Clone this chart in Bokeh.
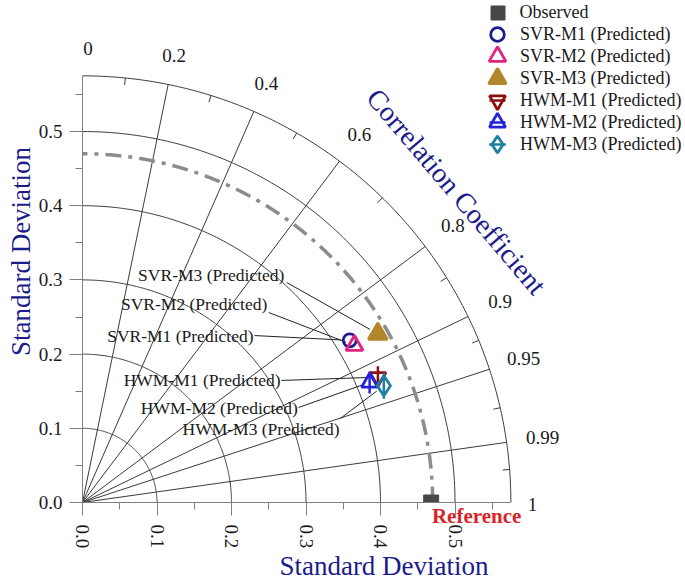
import numpy as np
from bokeh.plotting import figure
from bokeh.models import (ColumnDataSource, FixedTicker, Range1d, Legend,
                          LegendItem, LabelSet, Label, LinearAxis)
from bokeh.embed import file_html
from bokeh.resources import INLINE
from bokeh.core.properties import value

FONT = "Liberation Serif"

# ---------------- data ----------------
obs_name = "Observed"
obs_std = 0.468
model_names = ["SVR-M1 (Predicted)", "SVR-M2 (Predicted)", "SVR-M3 (Predicted)",
               "HWM-M1 (Predicted)", "HWM-M2 (Predicted)", "HWM-M3 (Predicted)"]
model_std = [0.420, 0.422, 0.457, 0.431, 0.418, 0.434]
model_corr = [0.854, 0.865, 0.8675, 0.920, 0.922, 0.932]

std_ticks = [0.0, 0.1, 0.2, 0.3, 0.4, 0.5]
std_tick_labels = ["0.0", "0.1", "0.2", "0.3", "0.4", "0.5"]
std_minor_ticks = [0.05, 0.15, 0.25, 0.35, 0.45, 0.55]
std_grid = [0.1, 0.2, 0.3, 0.4, 0.5]
std_max = 0.575
ref_arc_std = 0.47
corr_grid = [0.2, 0.4, 0.6, 0.8, 0.9, 0.95, 0.99]
corr_minor = [0.1, 0.3, 0.5, 0.7, 0.85, 0.925, 0.975, 0.997]
corr_ticks = [0.0, 0.2, 0.4, 0.6, 0.8, 0.9, 0.95, 0.99]
corr_tick_labels = ["0", "0.2", "0.4", "0.6", "0.8", "0.9", "0.95", "0.99"]
corr_end_label = "1"
ref_label = "Reference"

# ---------------- styles / layout ----------------
styles = [
    dict(marker="circle", color="#1c1c8e", size=13, fill=None, stem=False, lg=34),
    dict(marker="triangle", color="#e2237f", size=17, fill=None, stem=False, lg=42),
    dict(marker="triangle", color="#b3862c", size=19, fill="#b3862c", stem=False, lg=44),
    dict(marker="inverted_triangle", color="#8e0f12", size=16, fill=None, stem=True, lg=40),
    dict(marker="triangle", color="#2323dc", size=16, fill=None, stem=True, lg=40),
    dict(marker="diamond", color="#1e7fa6", size=20, fill=None, stem=True, lg=42),
]
# annotation text anchors (right-middle) and leader-line starts, data coords
label_anchor_x = [0.2295, 0.248, 0.271, 0.266, 0.289, 0.345]
label_anchor_y = [0.225, 0.268, 0.306, 0.1645, 0.128, 0.0997]
leader_x0 = [0.231, 0.250, 0.274, 0.267, 0.290, 0.346]
leader_y0 = [0.225, 0.256, 0.2965, 0.1645, 0.128, 0.1132]
leader_gap = 0.012

W, H = 685, 585
FRAME_LEFT, FRAME_BOTTOM = 82, 502
PXU_X, PXU_Y = 745.0, 742.0
NAVY = "#1b1b8a"
GRID = "#3a3a3a"
LEG_CX = 497            # legend glyph centre (canvas px)
LEG_TEXT_X = 520        # legend text start (canvas px)
LEG_ROW0, LEG_PITCH = 12, 22.0
# texts just under the axis line: label-only axes stacked after the main x axis,
# pulled back up with a negative standoff (their panel starts at the canvas bottom)
MAIN_AXIS_PANEL = H - FRAME_BOTTOM
REF_LABEL_X, REF_LABEL_TOP = 0.529, 504    # canvas px of the text top
END_LABEL_X, END_LABEL_TOP = 0.604, 498


def polar(s, c):
    s = np.asarray(s, dtype=float)
    c = np.asarray(c, dtype=float)
    return s * c, s * np.sqrt(1.0 - c ** 2)


p = figure(width=W, height=H, output_backend="svg", toolbar_location=None,
           x_range=Range1d(0, (W - FRAME_LEFT) / PXU_X),
           y_range=Range1d(0, FRAME_BOTTOM / PXU_Y),
           min_border_left=FRAME_LEFT, min_border_bottom=H - FRAME_BOTTOM,
           min_border_top=0, min_border_right=0)
p.grid.visible = False
p.outline_line_color = None

# axes
for ax in (p.xaxis[0], p.yaxis[0]):
    ax.ticker = FixedTicker(ticks=std_ticks, minor_ticks=std_minor_ticks)
    ax.bounds = (0, std_max)
    ax.major_label_overrides = {t: l for t, l in zip(std_ticks, std_tick_labels)}
    ax.major_label_text_font = FONT
    ax.major_label_text_font_size = "19px"
    ax.major_label_text_color = "#1a1a1a"
    ax.axis_label = "Standard Deviation"
    ax.axis_label_text_font = FONT
    ax.axis_label_text_font_style = "normal"
    ax.axis_label_text_color = NAVY
    ax.axis_label_text_font_size = "27px"
    ax.axis_line_color = "#808080"
    ax.major_tick_line_color = "#808080"
    ax.minor_tick_line_color = "#808080"
    ax.major_tick_in = 0
    ax.minor_tick_in = 0
    ax.minor_tick_out = 7
    ax.major_tick_out = 13
    ax.axis_label_standoff = 0
p.xaxis.major_label_orientation = -np.pi / 2
p.xaxis.major_label_standoff = 9
p.yaxis.major_label_standoff = 7


def label_axis(xpos, text, top_px, **txt):
    """A line-less, tick-less x axis that only prints one horizontal label."""
    standoff = int(round(top_px - (FRAME_BOTTOM + MAIN_AXIS_PANEL)))
    ax = LinearAxis(ticker=FixedTicker(ticks=[xpos], minor_ticks=[]),
                    major_label_overrides={xpos: text},
                    major_label_standoff=standoff, major_tick_out=0,
                    major_tick_in=0, minor_tick_out=0, minor_tick_in=0,
                    axis_line_color=None, major_tick_line_color=None,
                    minor_tick_line_color=None, major_label_text_font=FONT,
                    **txt)
    p.add_layout(ax, "below")


label_axis(END_LABEL_X, corr_end_label, END_LABEL_TOP,
           major_label_text_color="#1a1a1a", major_label_text_font_size="19px")
label_axis(REF_LABEL_X, ref_label, REF_LABEL_TOP,
           major_label_text_color="#d8252a", major_label_text_font_style="bold",
           major_label_text_font_size="21px")

# std-dev arcs
th = np.linspace(0, np.pi / 2, 240)
arc_r = std_grid + [std_max]
p.multi_line([list(r * np.cos(th)) for r in arc_r],
             [list(r * np.sin(th)) for r in arc_r],
             line_color=GRID, line_width=1)

# correlation radial lines
gx, gy = polar([std_max] * len(corr_grid), corr_grid)
p.segment(x0=0, y0=0, x1=gx, y1=gy, line_color=GRID, line_width=1)

# minor ticks on the outer arc
tick_len = 7 / PXU_X
mx0, my0 = polar([std_max - tick_len] * len(corr_minor), corr_minor)
mx1, my1 = polar([std_max] * len(corr_minor), corr_minor)
p.segment(x0=mx0, y0=my0, x1=mx1, y1=my1, line_color=GRID, line_width=1)

# reference std arc
p.line(ref_arc_std * np.cos(th), ref_arc_std * np.sin(th), line_color="#8c8c8c",
       line_width=3.5, line_dash="16 7 4 7")

# correlation labels
ct = np.array(corr_ticks)
lx, ly = polar(0.612 + 0.012 * ct, ct)
lx = np.maximum(lx, 0.0075)     # keep "0" inside the frame
corr_src = ColumnDataSource(dict(x=lx, y=ly, text=corr_tick_labels))
p.add_layout(LabelSet(x="x", y="y", text="text", source=corr_src,
                      text_font=value(FONT), text_font_size="19px",
                      text_align="center", text_baseline="middle",
                      text_color="#1a1a1a"))

p.add_layout(Label(x=0.502, y=0.419, text="Correlation Coefficient",
                   angle=-0.866, text_font=FONT, text_font_size="28px",
                   text_color=NAVY, text_align="center", text_baseline="middle"))

# model positions
mx, my = polar(model_std, model_corr)

# leader lines
lx0 = np.array(leader_x0)
ly0 = np.array(leader_y0)
dx, dy = mx - lx0, my - ly0
dist = np.hypot(dx, dy)
lx1 = mx - dx / dist * leader_gap
ly1 = my - dy / dist * leader_gap
p.segment(x0=lx0, y0=ly0, x1=lx1, y1=ly1, line_color="#222222", line_width=1)

# annotation texts
p.text(x=label_anchor_x, y=label_anchor_y, text=model_names,
       text_font=value(FONT), text_font_size="17.5px", text_align="right",
       text_baseline="middle", text_color="#1a1a1a")

# observed
obs_r = p.scatter([obs_std], [0.0], marker="square", size=15,
                  fill_color="#474747", line_color="#474747")

entries = [(obs_name, [obs_r], 35)]
for i, st in enumerate(styles):
    rends = []
    if st["stem"]:
        rends.append(p.scatter([mx[i]], [my[i]], marker="dash", angle=np.pi / 2,
                               size=st["size"] + 6, line_color=st["color"],
                               line_width=2.5))
    rends.append(p.scatter([mx[i]], [my[i]], marker=st["marker"], size=st["size"],
                           line_color=st["color"], line_width=2.8,
                           fill_color=st["fill"]))
    entries.append((model_names[i], rends, st["lg"]))

# one legend per row so rows can sit 22px apart with full-size glyphs
for k, (name, rends, g) in enumerate(entries):
    cy = LEG_ROW0 + LEG_PITCH * k
    lg = Legend(items=[LegendItem(label=name, renderers=rends)],
                location=(LEG_CX - g / 2 - FRAME_LEFT, FRAME_BOTTOM - (cy + g / 2)),
                label_text_font=FONT, label_text_font_size="18px",
                label_text_color="#1a1a1a", glyph_width=g, glyph_height=g,
                label_height=16, label_standoff=int(LEG_TEXT_X - (LEG_CX + g / 2)),
                padding=0, margin=0, spacing=0, border_line_color=None,
                background_fill_alpha=0)
    p.add_layout(lg)

open("out.html", "w").write(file_html(p, INLINE))
